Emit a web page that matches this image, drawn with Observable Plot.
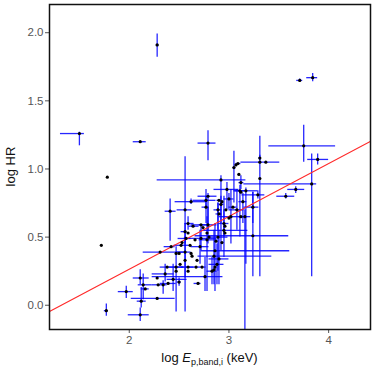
<!DOCTYPE html>
<html><head><meta charset="utf-8">
<script src="https://cdn.jsdelivr.net/npm/d3@7"></script>
<script src="https://cdn.jsdelivr.net/npm/@observablehq/plot@0.6"></script>
<style>body{margin:0;background:#fff;} svg{display:block;}</style>
</head><body><div id="chart"></div>
<script>
const logE = [1.50,2.11,2.28,1.78,1.72,1.77,2.11,1.97,2.79,3.71, 3.84,3.75,3.89,3.83,3.67,3.57,3.37,3.31,3.31,3.31, 3.29,3.24,3.24,3.05,3.07,3.09,3.10,3.12,3.11,3.12, 3.14,3.17,3.16,2.98,2.92,3.00,2.93,2.90,2.92,2.89, 2.90,3.02,3.00,2.95,2.96,2.95,2.96,2.89,2.87,2.86, 2.85,2.88,2.86,2.83,2.85,2.76,2.69,2.77,2.79,2.77, 2.79,2.78,2.78,2.80,2.74,2.72,2.72,2.71,2.68,2.67, 2.64,2.66,2.62,2.63,2.61,2.59,2.59,2.57,2.56,2.56, 2.59,2.59,2.56,2.56,2.62,2.41,2.53,2.52,2.50,2.47, 2.42,2.31,2.47,2.47,2.50,2.44,2.38,2.36,2.39,2.34, 2.29,2.28,2.28,2.12,2.11,2.14,2.16,2.51,2.73,2.90, 2.93,2.97,3.04,3.08,3.12];
const logHR = [1.26,1.20,1.91,0.94,0.44,-0.04,-0.07,0.10,1.19,1.65, 1.67,1.17,1.07,0.89,0.85,0.80,1.05,1.05,1.08,0.93, 0.81,0.51,0.72,1.01,1.03,1.04,0.96,0.90,0.84,0.83, 0.76,0.84,0.65,0.85,0.92,0.78,0.76,0.77,0.74,0.70, 0.67,0.65,0.64,0.60,0.58,0.55,0.53,0.50,0.47,0.40, 0.36,0.30,0.28,0.25,0.26,0.21,0.16,0.77,0.80,0.72, 0.59,0.53,0.48,0.50,0.57,0.59,0.49,0.43,0.33,0.28, 0.58,0.48,0.38,0.36,0.44,0.60,0.53,0.49,0.39,0.33, 0.28,0.25,0.54,0.70,0.76,0.69,0.46,0.44,0.38,0.38, 0.43,0.39,0.28,0.25,0.17,0.19,0.28,0.23,0.16,0.15, 0.15,0.20,0.05,0.03,0.20,0.15,0.12,0.30,0.28,0.34, 0.46,0.70,0.72,0.70,0.65];
const xLow = [1.31,2.04,2.27,1.78,1.72,1.75,1.99,1.89,2.69,3.68, 3.78,3.40,3.79,3.15,3.59,3.48,3.37,3.12,3.30,3.31, 3.13,2.66,3.15,3.04,3.07,3.07,3.09,3.10,3.06,3.12, 3.10,3.05,3.10,2.85,2.28,2.95,2.93,2.88,2.90,2.85, 2.87,2.90,3.00,2.90,2.96,2.72,2.96,2.79,2.87,2.72, 2.69,2.80,2.86,2.78,2.85,2.23,2.65,2.64,2.69,2.73, 2.70,2.78,2.70,2.80,2.74,2.62,2.55,2.62,2.68,2.57, 2.60,2.66,2.62,2.63,2.61,2.56,2.59,2.49,2.48,2.56, 2.52,2.59,2.52,2.48,2.46,2.36,2.53,2.45,2.50,2.47, 2.35,2.14,2.40,2.47,2.48,2.38,2.31,2.23,2.31,2.23, 2.29,2.28,2.02,2.08,2.04,2.09,2.12,2.51,2.73,2.80, 2.93,2.97,3.00,3.00,3.12];
const xHigh = [1.55,2.17,2.30,1.78,1.72,1.79,2.20,2.04,2.87,3.74, 3.89,4.07,4.00,3.88,3.76,3.66,3.37,3.51,3.32,3.31, 3.36,3.60,3.30,3.07,3.07,3.12,3.11,3.15,3.16,3.12, 3.18,3.29,3.22,3.10,3.17,3.05,2.93,2.92,2.95,2.93, 2.93,3.15,3.00,3.00,2.96,3.19,2.96,2.99,2.87,3.61, 3.43,2.95,2.86,2.88,2.85,2.94,2.72,2.87,2.88,2.80, 2.88,2.78,2.88,2.80,2.74,2.80,2.88,2.80,2.68,2.77, 2.70,2.66,2.62,2.63,2.61,2.65,2.59,2.62,2.62,2.56, 2.65,2.59,2.58,2.63,2.77,2.47,2.53,2.60,2.50,2.47, 2.46,2.55,2.55,2.47,2.52,2.58,2.55,2.45,2.47,2.38, 2.29,2.28,2.46,2.17,2.20,2.23,2.20,2.51,2.73,3.00, 2.93,2.97,3.08,3.15,3.12];
const yLow = [1.17,1.20,1.82,0.94,0.44,-0.08,-0.12,0.05,1.06,1.64, 1.64,1.05,1.03,0.21,0.82,0.78,1.05,0.21,1.06,0.93, 0.78,0.21,0.60,0.75,1.03,1.04,0.96,0.85,0.50,0.83, 0.60,0.30,-0.20,0.70,0.40,0.70,0.76,0.77,0.60,0.55, 0.67,0.45,0.64,0.50,0.58,0.35,0.53,0.25,0.47,0.10, 0.15,0.15,0.28,0.15,0.26,0.10,0.16,0.72,0.55,0.60, 0.45,0.10,0.48,0.50,0.57,0.59,0.40,0.30,0.33,0.28, 0.58,0.48,0.38,0.36,0.44,0.55,0.53,0.49,0.20,0.33, 0.28,0.25,0.45,-0.05,0.74,0.47,0.46,0.44,0.38,-0.05, 0.43,0.39,0.28,0.25,0.14,0.10,0.28,0.17,0.16,0.08, 0.15,0.20,0.05,-0.02,0.15,0.04,0.12,0.30,0.28,0.15, 0.46,0.70,0.72,0.55,0.65];
const yHigh = [1.27,1.20,1.99,0.94,0.44,0.01,-0.02,0.14,1.28,1.66, 1.70,1.32,1.11,1.11,0.87,0.82,1.05,1.24,1.10,0.93, 0.84,0.83,0.83,1.13,1.03,1.04,0.96,0.95,0.88,0.83, 0.82,0.86,0.70,0.90,0.95,0.82,0.76,0.77,0.80,0.75, 0.67,0.85,0.64,0.70,0.58,0.80,0.53,0.75,0.47,0.60, 0.55,0.45,0.28,0.35,0.26,0.35,0.16,0.80,0.82,0.85, 0.72,0.65,0.48,0.50,0.57,0.59,0.58,0.55,0.33,0.28, 0.58,0.48,0.38,0.36,0.44,0.65,0.53,0.49,0.50,0.33, 0.28,0.25,0.60,1.09,0.78,0.78,0.46,0.44,0.38,0.43, 0.43,0.39,0.28,0.25,0.20,0.30,0.28,0.30,0.16,0.18, 0.15,0.20,0.05,0.13,0.26,0.23,0.12,0.30,0.28,0.55, 0.46,0.70,0.72,0.85,0.65];
const xTicks = [2, 3, 4];
const yTicks = [0, 0.5, 1, 1.5, 2];
const xDomain = [1.2, 4.42];
const yDomain = [-0.178, 2.207];
const fitSlope = 0.388;
const fitIntercept = -0.512;

const data = logE.map((x, i) => ({x, y: logHR[i], x1: xLow[i], x2: xHigh[i], y1: yLow[i], y2: yHigh[i]}));
const fit = xDomain.map(x => ({x, y: fitIntercept + fitSlope * x}));

const font = "'Liberation Sans', Arial, sans-serif";
const plot = Plot.plot({
  width: 374, height: 374,
  marginLeft: 49, marginRight: 4, marginTop: 4, marginBottom: 45,
  style: {fontFamily: font, color: "#555", background: "#fff"},
  x: {domain: xDomain},
  y: {domain: yDomain},
  marks: [
    Plot.ruleY(data, {y: "y", x1: "x1", x2: "x2", stroke: "#0000ff", strokeOpacity: 0.85, strokeWidth: 1.3, clip: true}),
    Plot.ruleX(data, {x: "x", y1: "y1", y2: "y2", stroke: "#0000ff", strokeOpacity: 0.85, strokeWidth: 1.3, clip: true}),
    Plot.line(fit, {x: "x", y: "y", stroke: "#ff2a2a", strokeWidth: 1.2, clip: true}),
    Plot.dot(data, {x: "x", y: "y", r: 1.6, fill: "black", stroke: "none"}),
    Plot.axisX({ticks: xTicks, tickSize: 4, tickPadding: 2, fontSize: 11.5, tickFormat: d3.format("d"), label: null}),
    Plot.axisY({ticks: yTicks, tickSize: 4, tickPadding: 2, fontSize: 11.5, tickFormat: d3.format(".1f"), label: null}),
    Plot.frame({stroke: "#111", strokeWidth: 1.5})
  ]
});
document.getElementById("chart").appendChild(plot);

const svg = d3.select(plot);
const xr = plot.scale("x").range, yr = plot.scale("y").range;
const cx = (xr[0] + xr[1]) / 2, cy = (yr[0] + yr[1]) / 2;
const xl = svg.append("text").attr("x", cx).attr("y", 362).attr("text-anchor", "middle")
  .attr("font-size", 13).attr("fill", "#111").attr("font-family", font);
xl.append("tspan").text("log ");
xl.append("tspan").attr("font-style", "italic").text("E");
xl.append("tspan").attr("font-size", 9).attr("dy", 3).text("p,band,i");
xl.append("tspan").attr("dy", -3).text(" (keV)");
svg.append("text").attr("transform", `translate(15,${cy}) rotate(-90)`).attr("text-anchor", "middle")
  .attr("font-size", 13).attr("fill", "#111").attr("font-family", font).text("log HR");
</script>
</body></html>
